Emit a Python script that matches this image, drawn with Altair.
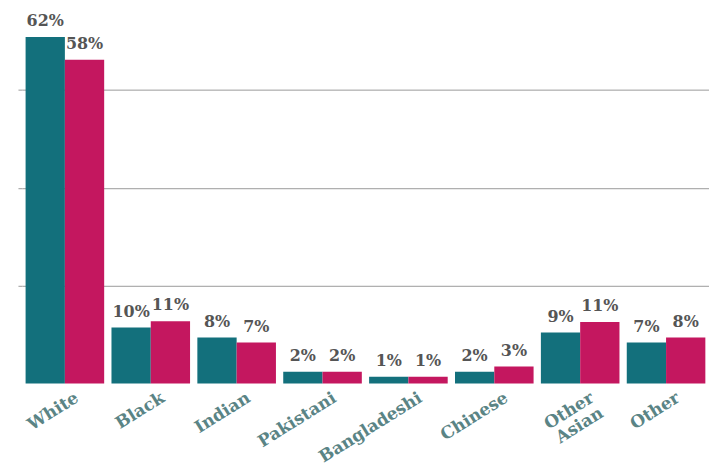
import altair as alt
import pandas as pd

categories = ["White", "Black", "Indian", "Pakistani", "Bangladeshi", "Chinese", "Other Asian", "Other"]
series_names = ["Area", "England"]
series_a = [62.0, 10.0, 8.2, 2.1, 1.2, 2.1, 9.1, 7.3]
series_b = [57.9, 11.1, 7.3, 2.1, 1.2, 3.0, 11.0, 8.2]
colors = ["#13707c", "#c4175f"]
grid_values = [17.5, 35, 52.5]

rows = []
for c, a, b in zip(categories, series_a, series_b):
    rows.append({"group": c, "series": series_names[0], "value": a})
    rows.append({"group": c, "series": series_names[1], "value": b})
df = pd.DataFrame(rows)

x_enc = alt.X(
    "group:N",
    sort=categories,
    scale=alt.Scale(paddingInner=0.085, paddingOuter=0.0425),
    axis=alt.Axis(
        title=None,
        ticks=False,
        domain=False,
        labelAngle=-32,
        labelAlign="right",
        labelBaseline="top",
        labelFont="DejaVu Serif",
        labelFontWeight="bold",
        labelFontSize=17,
        labelColor="#5a8485",
        labelPadding=6,
        labelOffset=8,
        labelLineHeight=18,
        labelExpr="datum.label == 'Other Asian' ? ['Other', 'Asian'] : datum.label",
    ),
)
xo_enc = alt.XOffset("series:N", sort=series_names, scale=alt.Scale(paddingInner=0, paddingOuter=0))
y_scale = alt.Scale(domain=[0, 67], nice=False)

base = alt.Chart(df).encode(x=x_enc, xOffset=xo_enc)

bars = base.mark_bar().encode(
    y=alt.Y(
        "value:Q",
        scale=y_scale,
        axis=alt.Axis(
            values=grid_values,
            labels=False,
            domain=False,
            title=None,
            tickSize=4,
            tickColor="#999999",
            gridColor="#999999",
            gridWidth=1,
        ),
    ),
    color=alt.Color("series:N", scale=alt.Scale(domain=series_names, range=colors), legend=None),
)

text = base.transform_calculate(
    label="format(datum.value, '.0f') + '%'"
).mark_text(
    baseline="bottom",
    dy=-8,
    font="DejaVu Serif",
    fontWeight="bold",
    fontSize=16,
    color="#555555",
).encode(
    y=alt.Y("value:Q", scale=y_scale),
    text="label:N",
)

chart = alt.layer(bars, text).properties(
    width=690,
    height=376,
    autosize=alt.AutoSizeParams(type="none"),
    padding={"left": 14, "top": 0, "right": 0, "bottom": 84},
    background="white",
).configure_view(strokeWidth=0)

chart.save("out.html", embed_options={"renderer": "svg", "actions": False})
